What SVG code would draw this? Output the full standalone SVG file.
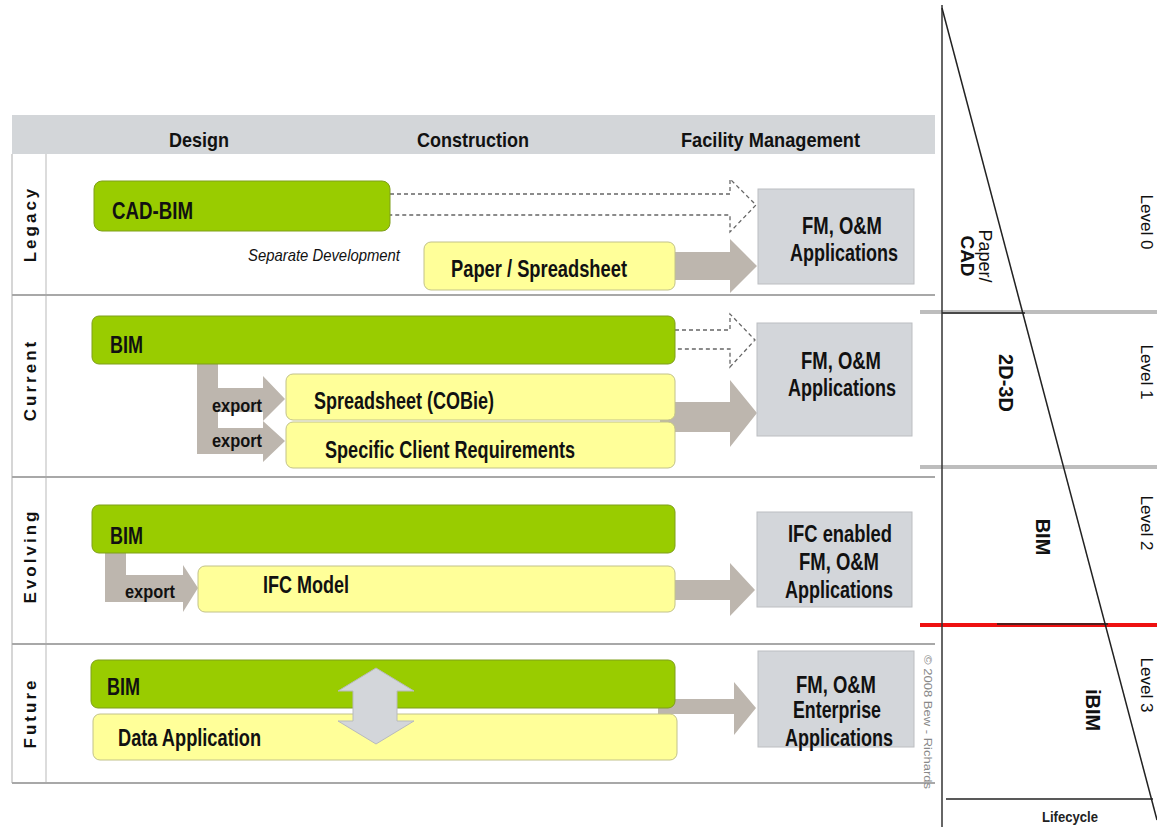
<svg xmlns="http://www.w3.org/2000/svg" width="1157" height="827" viewBox="0 0 1157 827">
<style>
.t{font-family:"Liberation Sans",Arial,sans-serif;font-weight:bold;fill:#111}
.h{font-size:21px}
.b{font-size:23px}
.e{font-size:19px}
.lab{font-family:"Liberation Sans","DejaVu Sans",sans-serif;font-weight:bold;font-size:17px;letter-spacing:3px;fill:#111}
.green{fill:#99cc00;stroke:#7f9f1a;stroke-width:1}
.yellow{fill:#ffff99;stroke:#c2c28a;stroke-width:1}
.fm{fill:#d3d6da;stroke:#bcbec1;stroke-width:1}
.garrow{fill:#bdb6ae}
.dash{fill:none;stroke:#666;stroke-width:1.3;stroke-dasharray:4,3}
.sep{stroke:#a8a8a8;stroke-width:2}
.rt{font-family:"Liberation Sans","DejaVu Sans",sans-serif;fill:#111}
</style>
<rect width="1157" height="827" fill="#fff"/>
<g id="table">
<rect x="12" y="115" width="923" height="39" fill="#d3d6d9"/>
<text class="t h" x="169" y="147" textLength="60" lengthAdjust="spacingAndGlyphs">Design</text>
<text class="t h" x="417" y="147" textLength="112" lengthAdjust="spacingAndGlyphs">Construction</text>
<text class="t h" x="681" y="147" textLength="179" lengthAdjust="spacingAndGlyphs">Facility Management</text>
<line x1="12" y1="154" x2="12" y2="783" stroke="#c8c8c8" stroke-width="1.5"/>
<line x1="46" y1="154" x2="46" y2="783" stroke="#d0d0d0" stroke-width="1.5"/>
<line class="sep" x1="12" y1="295" x2="935" y2="295"/>
<line class="sep" x1="12" y1="477" x2="935" y2="477"/>
<line class="sep" x1="12" y1="644" x2="935" y2="644"/>
<line class="sep" x1="12" y1="783" x2="935" y2="783"/>
<text class="lab" transform="translate(36,224) rotate(-90)" text-anchor="middle">Legacy</text>
<text class="lab" transform="translate(36,380) rotate(-90)" text-anchor="middle">Current</text>
<text class="lab" transform="translate(36,556) rotate(-90)" text-anchor="middle">Evolving</text>
<text class="lab" transform="translate(36,713) rotate(-90)" text-anchor="middle">Future</text>
</g>
<g id="connectors">
<path class="dash" d="M390,194 H730 V179 L756,205 L730,232 V215 H390"/>
<path class="garrow" d="M675,252 H730 V239 L757,266 L730,293 V280 H675 Z"/>
<path class="dash" d="M675,330 H730 V314 L755,340 L730,367 V349 H675"/>
<path class="garrow" d="M197,364 H218 V388 H263 V376 L285,399 L263,421 V412 H218 V428 H263 V421 L285,441 L263,462 V454 H197 Z"/>
<path class="garrow" d="M660,402 H730 V380 L757,413 L730,447 V432 H660 Z"/>
<path class="garrow" d="M105,553 H126 V575 H183 V565 L198,588 L183,612 V602 H105 Z"/>
<path class="garrow" d="M675,580 H730 V563 L755,590 L730,616 V600 H675 Z"/>
<path class="garrow" d="M658,699 H734 V682 L756,708 L734,735 V714 H658 Z"/>
</g>
<g id="legacy-cadbim"><rect class="green" x="94" y="181" width="296" height="50" rx="8"/><text class="t b" x="112" y="219" textLength="81" lengthAdjust="spacingAndGlyphs">CAD-BIM</text></g>
<g id="legacy-sepdev"><text x="248" y="261" textLength="152" lengthAdjust="spacingAndGlyphs" style="font-family:'Liberation Sans',sans-serif;font-style:italic;font-size:17px;fill:#111">Separate Development</text></g>
<g id="legacy-paper"><rect class="yellow" x="424" y="242" width="251" height="48" rx="7"/><text class="t b" x="451" y="277" textLength="176" lengthAdjust="spacingAndGlyphs">Paper / Spreadsheet</text></g>
<g id="legacy-fm"><rect class="fm" x="758" y="189" width="156" height="95"/><text class="t b" x="802" y="234" textLength="80" lengthAdjust="spacingAndGlyphs">FM, O&amp;M</text><text class="t b" x="790" y="261" textLength="108" lengthAdjust="spacingAndGlyphs">Applications</text></g>
<g id="current-bim"><rect class="green" x="92" y="316" width="583" height="48" rx="7"/><text class="t b" x="110" y="353" textLength="33" lengthAdjust="spacingAndGlyphs">BIM</text></g>
<g id="current-export"><text class="t e" x="212" y="412" textLength="50" lengthAdjust="spacingAndGlyphs">export</text><text class="t e" x="212" y="447" textLength="50" lengthAdjust="spacingAndGlyphs">export</text></g>
<g id="current-cobie"><rect class="yellow" x="286" y="374" width="389" height="46" rx="7"/><text class="t b" x="314" y="409" textLength="180" lengthAdjust="spacingAndGlyphs">Spreadsheet (COBie)</text></g>
<g id="current-client"><rect class="yellow" x="286" y="422" width="389" height="46" rx="7"/><text class="t b" x="325" y="458" textLength="250" lengthAdjust="spacingAndGlyphs">Specific Client Requirements</text></g>
<g id="current-fm"><rect class="fm" x="757" y="323" width="155" height="113"/><text class="t b" x="801" y="369" textLength="80" lengthAdjust="spacingAndGlyphs">FM, O&amp;M</text><text class="t b" x="788" y="396" textLength="108" lengthAdjust="spacingAndGlyphs">Applications</text></g>
<g id="evolving-bim"><rect class="green" x="92" y="505" width="583" height="48" rx="7"/><text class="t b" x="110" y="544" textLength="33" lengthAdjust="spacingAndGlyphs">BIM</text></g>
<g id="evolving-export"><text class="t e" x="125" y="598" textLength="50" lengthAdjust="spacingAndGlyphs">export</text></g>
<g id="evolving-ifc"><rect class="yellow" x="198" y="566" width="477" height="46" rx="7"/><text class="t b" x="263" y="593" textLength="86" lengthAdjust="spacingAndGlyphs">IFC Model</text></g>
<g id="evolving-fm"><rect class="fm" x="757" y="512" width="155" height="95"/><text class="t b" x="788" y="542" textLength="104" lengthAdjust="spacingAndGlyphs">IFC enabled</text><text class="t b" x="799" y="570" textLength="80" lengthAdjust="spacingAndGlyphs">FM, O&amp;M</text><text class="t b" x="785" y="598" textLength="108" lengthAdjust="spacingAndGlyphs">Applications</text></g>
<g id="future-data"><rect class="yellow" x="93" y="714" width="584" height="46" rx="7"/><text class="t b" x="118" y="746" textLength="143" lengthAdjust="spacingAndGlyphs">Data Application</text></g>
<g id="future-bim"><rect class="green" x="91" y="660" width="584" height="48" rx="7"/><text class="t b" x="107" y="695" textLength="33" lengthAdjust="spacingAndGlyphs">BIM</text></g>
<g id="future-double"><path d="M376,668 L414,691 H397 V721 H414 L376,744 L338,721 H353 V691 H338 Z" fill="#d3d6da" stroke="#b8babd" stroke-width="1"/></g>
<g id="future-fm"><rect class="fm" x="758" y="651" width="156" height="96"/><text class="t b" x="796" y="693" textLength="80" lengthAdjust="spacingAndGlyphs">FM, O&amp;M</text><text class="t b" x="793" y="718" textLength="88" lengthAdjust="spacingAndGlyphs">Enterprise</text><text class="t b" x="785" y="746" textLength="108" lengthAdjust="spacingAndGlyphs">Applications</text></g>
<g id="copyright"><text transform="translate(924,722) rotate(90)" text-anchor="middle" textLength="134" lengthAdjust="spacingAndGlyphs" style="font-family:'Liberation Sans',sans-serif;font-size:10px;fill:#888">© 2008 Bew - Richards</text></g>
<g id="levels">
<line x1="920" y1="312" x2="1157" y2="312" stroke="#bdbdbd" stroke-width="4"/>
<line x1="920" y1="467" x2="1157" y2="467" stroke="#bdbdbd" stroke-width="4"/>
<line x1="920" y1="625" x2="1157" y2="625" stroke="#ee1111" stroke-width="4"/>
<line x1="942" y1="313" x2="1025" y2="313" stroke="#222" stroke-width="1.5"/>
<line x1="997" y1="624" x2="1108" y2="624" stroke="#222" stroke-width="1.5"/>
<line x1="942" y1="5" x2="942" y2="827" stroke="#333" stroke-width="1.5"/>
<line x1="942" y1="8" x2="1157" y2="820" stroke="#222" stroke-width="1.5"/>
<line x1="946" y1="799" x2="1153" y2="799" stroke="#222" stroke-width="1.5"/>
<text class="rt" transform="translate(979,256) rotate(90)" text-anchor="middle" style="font-size:18px">Paper/</text>
<text class="rt" transform="translate(961,256) rotate(90)" text-anchor="middle" style="font-size:19px;font-weight:bold">CAD</text>
<text class="rt" transform="translate(999,383) rotate(90)" text-anchor="middle" style="font-size:20px;font-weight:bold">2D-3D</text>
<text class="rt" transform="translate(1036,537) rotate(90)" text-anchor="middle" style="font-size:20px;font-weight:bold">BIM</text>
<text class="rt" transform="translate(1086,710) rotate(90)" text-anchor="middle" style="font-size:20px;font-weight:bold">iBIM</text>
<text class="rt" transform="translate(1141,222) rotate(90)" text-anchor="middle" style="font-size:17px">Level 0</text>
<text class="rt" transform="translate(1141,372) rotate(90)" text-anchor="middle" style="font-size:17px">Level 1</text>
<text class="rt" transform="translate(1141,523) rotate(90)" text-anchor="middle" style="font-size:17px">Level 2</text>
<text class="rt" transform="translate(1141,685) rotate(90)" text-anchor="middle" style="font-size:17px">Level 3</text>
<text x="1042" y="822" textLength="56" lengthAdjust="spacingAndGlyphs" style="font-family:'Liberation Sans',sans-serif;font-size:14px;font-weight:bold;fill:#222">Lifecycle</text>
</g>
</svg>
